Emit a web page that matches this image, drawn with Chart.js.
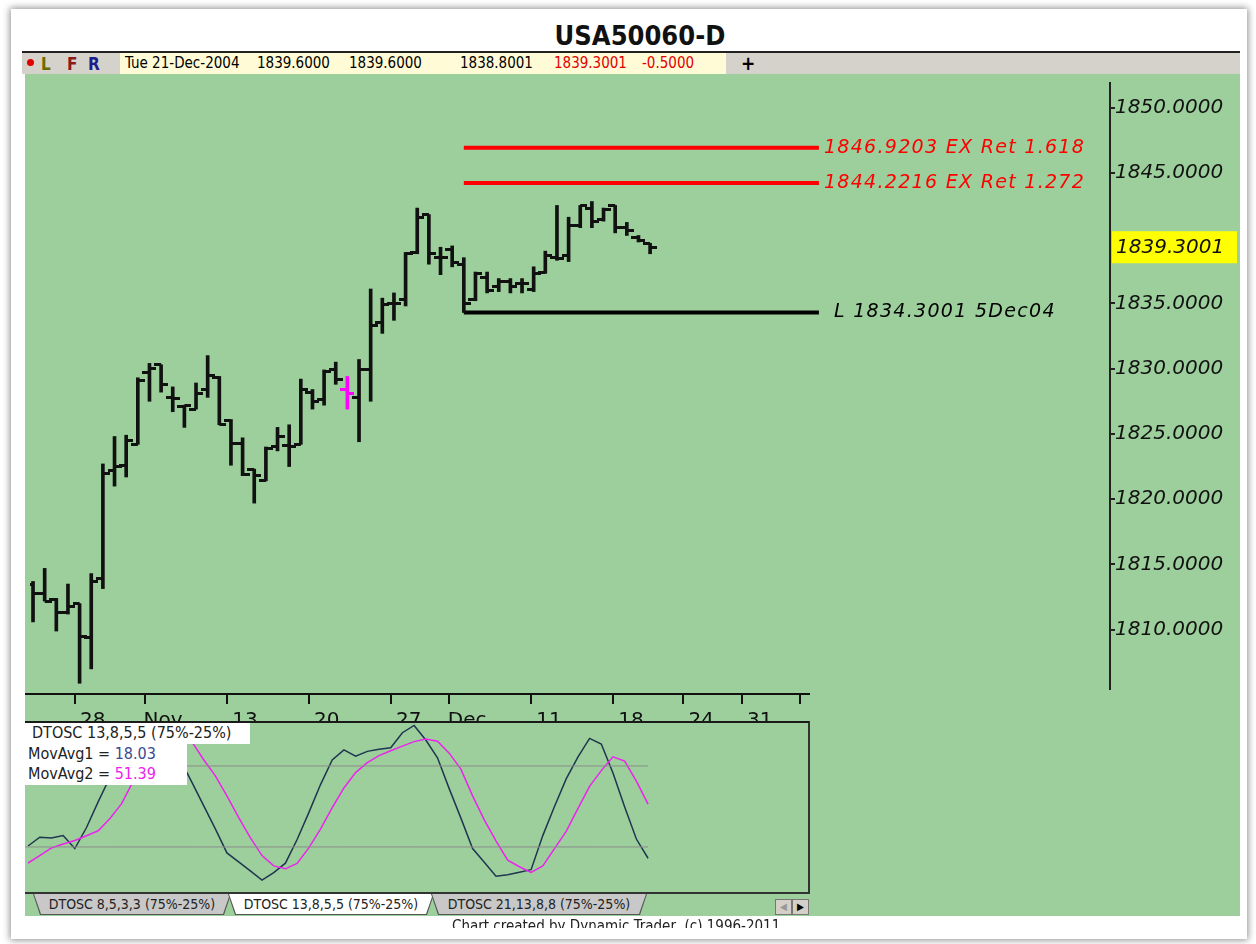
<!DOCTYPE html>
<html>
<head>
<meta charset="utf-8">
<title>USA50060-D</title>
<script src="https://cdn.jsdelivr.net/npm/chart.js@4.4.1/dist/chart.umd.min.js"></script>
<style>
  body { margin: 0; width: 1256px; height: 944px; background: #fff; position: relative; overflow: hidden;
         font-family: "DejaVu Sans Condensed", "DejaVu Sans", sans-serif; }
  .abs { position: absolute; }
  #frame { left: 11px; top: 9px; width: 1236px; height: 930px; background: #fff; box-shadow: 0 0 7px 1px rgba(0,0,0,.45); }
  #title { left: 540px; top: 20px; width: 200px; text-align: center; font-weight: bold; font-size: 27px; color: #111; }
  #toolbar { left: 22px; top: 51px; width: 1218px; height: 21px; background: #d5d2cc; border-top: 2px solid #222; font-size: 15px; }
  #toolbar span { position: absolute; top: 1px; white-space: pre; }
  #quote { left: 98px; top: 0; width: 606px; height: 21px; background: #fffbd6; }
  #green { left: 25px; top: 74px; width: 1215px; height: 842px; background: #9ccf9c; }
  #oscBox { left: 25px; top: 721px; width: 785px; height: 173px; box-sizing: border-box; background: #9ccf9c;
            border-top: 2px solid #1a1a1a; border-right: 2px solid #333; border-bottom: 2px solid #333; }
  .leg { background: #fff; font-size: 16px; color: #222; white-space: pre; padding-left: 3px; box-sizing: border-box; }
  .tab { top: 0; height: 21px; background: #555; clip-path: polygon(0 0, 100% 0, calc(100% - 7px) 100%, 7px 100%); }
  .tab div { position: absolute; left: 1px; right: 1px; top: 0; bottom: 1px; font-size: 14px; text-align: center; line-height: 20px;
             color: #222; clip-path: polygon(0 0, 100% 0, calc(100% - 7px) 100%, 7px 100%); }
  .btn { top: 5px; width: 15px; height: 14px; background: #d4d0c8; border: 1px solid #777; font-size: 10px; text-align: center; line-height: 14px; }
  #footer { left: 452px; top: 917px; height: 11px; overflow: hidden; font-size: 15px; color: #222; white-space: pre; }
</style>
</head>
<body>
<div id="frame" class="abs"></div>
<div id="title" class="abs">USA50060-D</div>
<div id="toolbar" class="abs">
  <div class="abs" style="left:5px;top:6px;width:7px;height:7px;border-radius:50%;background:#e00000"></div>
  <span style="left:19px;color:#6b6b00;font-weight:bold;font-size:17px">L</span>
  <span style="left:45px;color:#8b1a1a;font-weight:bold;font-size:17px">F</span>
  <span style="left:66px;color:#1c1c8c;font-weight:bold;font-size:17px">R</span>
  <div id="quote" class="abs">
    <span id="qDate" style="left:5px"></span>
    <span id="qOpen" style="left:137px"></span>
    <span id="qHigh" style="left:229px"></span>
    <span id="qLow" style="left:340px"></span>
    <span id="qClose" style="left:434px;color:#e00000"></span>
    <span id="qChange" style="left:522px;color:#e00000"></span>
  </div>
  <span style="left:719px;top:-1px;font-weight:bold;font-size:19px">+</span>
</div>
<div id="green" class="abs"></div>
<canvas id="priceChart" class="abs" width="1215" height="616" style="left:25px;top:78px"></canvas>
<canvas id="dateAxis" class="abs" width="785" height="60" style="left:25px;top:680px"></canvas>
<div id="oscBox" class="abs">
  <canvas id="oscChart" class="abs" width="783" height="169" style="left:0;top:0"></canvas>
</div>
<div class="abs leg" id="legTitle" style="left:25px;top:723px;width:225px;height:21px;padding-left:7px"></div>
<div class="abs leg" style="left:25px;top:744px;width:162px;height:21px">MovAvg1 = <span id="legFast" style="color:#3b4a8e"></span></div>
<div class="abs leg" style="left:25px;top:764px;width:162px;height:21px">MovAvg2 = <span id="legSlow" style="color:#ee22ee"></span></div>
<div id="tabs" class="abs" style="left:25px;top:894px;width:785px;height:22px"></div>
<div id="footer" class="abs">Chart created by Dynamic Trader  (c) 1996-2011</div>

<script>
// ---- data ----
const quoteDate = 'Tue 21-Dec-2004';

// one bar per day, oldest first (last bar = 21 Dec)
const barOpen = [1813.5, 1812.8, 1812.3, 1811.3, 1812.0, 1809.4, 1813.9, 1822.2, 1822.6, 1824.2,
                 1829.7, 1830.3, 1827.8, 1827.1, 1826.9, 1828.4, 1829.3, 1826.0, 1824.3, 1822.3,
                 1821.4, 1824.0, 1824.1, 1824.2, 1828.2, 1827.6, 1829.9, 1828.4, 1827.8, 1829.9,
                 1833.5, 1835.0, 1835.3, 1838.9, 1841.8, 1838.5, 1839.1, 1838.0, 1835.3, 1837.0,
                 1836.3, 1836.7, 1836.5, 1836.1, 1837.4, 1838.5, 1838.7, 1841.0, 1842.3, 1841.4,
                 1842.5, 1840.8, 1840.05, 1839.6];
const barHigh = [1813.7, 1814.7, 1812.4, 1813.5, 1812.0, 1814.3, 1822.7, 1824.8, 1824.9, 1829.3,
                 1830.4, 1830.3, 1828.6, 1827.2, 1828.9, 1831.0, 1829.4, 1826.1, 1824.7, 1822.3,
                 1824.0, 1825.5, 1825.7, 1829.2, 1828.4, 1829.9, 1830.5, 1829.4, 1830.7, 1836.1,
                 1835.4, 1835.8, 1838.9, 1842.3, 1841.8, 1839.3, 1839.4, 1838.5, 1837.4, 1837.4,
                 1836.9, 1836.9, 1836.9, 1837.8, 1839.0, 1842.5, 1841.6, 1842.5, 1842.8, 1842.3,
                 1842.5, 1841.2, 1840.2, 1839.6];
const barLow = [1810.6, 1812.2, 1809.9, 1811.2, 1805.9, 1807.0, 1813.15, 1821.0, 1821.7, 1824.2,
                1827.5, 1828.2, 1826.7, 1825.5, 1826.9, 1827.8, 1825.7, 1822.6, 1821.8, 1819.7,
                1821.4, 1823.7, 1822.5, 1824.2, 1826.9, 1827.2, 1828.8, 1826.9, 1824.4, 1827.5,
                1832.7, 1833.7, 1834.8, 1838.8, 1838.0, 1837.2, 1837.8, 1834.3001, 1835.2, 1835.8,
                1835.9, 1835.8, 1835.8, 1835.9, 1837.3, 1838.3, 1838.2, 1840.8, 1840.8, 1841.3,
                1840.4, 1840.2, 1839.7, 1838.8001];
const barClose = [1812.8, 1812.2, 1811.3, 1811.8, 1809.5, 1813.7, 1822.0, 1822.5, 1824.5, 1829.1,
                  1830.0, 1828.8, 1827.7, 1827.2, 1828.1, 1829.5, 1825.7, 1824.3, 1821.9, 1821.8,
                  1823.9, 1824.8, 1824.0, 1828.4, 1827.5, 1829.8, 1829.2, 1828.1, 1829.9, 1833.3,
                  1834.9, 1835.0, 1838.8, 1841.6, 1838.8, 1838.5, 1838.1, 1835.0, 1837.3, 1836.0,
                  1836.7, 1836.3, 1836.5, 1837.3, 1838.7, 1838.4, 1841.0, 1842.5, 1841.3, 1842.2,
                  1840.8, 1840.6, 1839.8001, 1839.3001];
const markedBar = 27;   // the magenta bar

// DTOSC 13,8,5,5
const dtoscFast = [25.6, 31, 30.5, 32, 24, 37, 53, 68, 82, 92,
                   97, 97, 90, 79, 65, 50.7, 36.3, 21.3, 15.8, 10.2,
                   4.6, 9.2, 15, 29.6, 46.2, 63.5, 78.7, 84.9, 81, 84,
                   85.3, 86.2, 95.5, 100, 91, 80, 61, 42.8, 24, 15.5,
                   7, 7.9, 9.4, 11, 32, 50, 67, 80.4, 92, 88.5,
                   70.7, 49.6, 29.9, 18.03];
const dtoscSlow = [15.1, 19.7, 24.4, 26.8, 29, 31.9, 35, 42.6, 51.7, 65.7,
                   76, 85, 90, 92, 90, 79, 69, 56.5, 43.3, 30.8,
                   19.7, 13.3, 11.5, 14.8, 24.4, 36, 49.2, 61.4, 70.9, 77,
                   81.4, 84.4, 87.2, 90, 91.6, 90.3, 82.9, 73, 56.5, 41.7,
                   28.8, 16.8, 12.8, 9.3, 13.3, 24, 34.6, 48.6, 62.4, 72.1,
                   80.6, 78, 65.6, 51.39];
const oscBands = [75, 25];

// date axis
const dateTickIndex = [4, 10, 17, 24, 31, 36, 43, 50, 56, 61, 66];
const dateTickLabels = ['28', 'Nov', '13', '20', '27', 'Dec', '11', '18', '24', '31', ''];

// price axis (1840 sits under the last-price box)
const priceTicks = [1810, 1815, 1820, 1825, 1830, 1835, 1845, 1850];

// projection lines
const levelValues = [1846.9203, 1844.2216, 1834.3001];
const levelTexts = ['1846.9203 EX Ret 1.618', '1844.2216 EX Ret 1.272', 'L 1834.3001 5Dec04'];
const levelStartIndex = 37;   // 5 Dec low
const levelEndIndex = 67.5;

const tabNames = ['DTOSC 8,5,3,3 (75%-25%)', 'DTOSC 13,8,5,5 (75%-25%)', 'DTOSC 21,13,8,8 (75%-25%)'];

// ---- layout / styles ----
const X_MIN = -0.26;
const X_MAX_PRICE = 92.5;
const X_MAX_DATE = 66.84;
const X_MAX_OSC = 66.67;
const PRICE_MIN = 1805.46, PRICE_MAX = 1851.88;
const OSC_MIN = -2.8, OSC_MAX = 101.5;
const BAR_COLOR = '#111', MARK_COLOR = '#ff00ff';
const levelColors = ['#ff0000', '#ff0000', '#000000'];
const levelGaps = [5, 5, 15];
const SCRIPT_FONT = '"DejaVu Sans"';

document.addEventListener('DOMContentLoaded', () => {
    const last = barClose.length - 1;

    // quote line
    document.getElementById('qDate').textContent = quoteDate;
    document.getElementById('qOpen').textContent = barOpen[last].toFixed(4);
    document.getElementById('qHigh').textContent = barHigh[last].toFixed(4);
    document.getElementById('qLow').textContent = barLow[last].toFixed(4);
    document.getElementById('qClose').textContent = barClose[last].toFixed(4);
    document.getElementById('qChange').textContent = (barClose[last] - barClose[last - 1]).toFixed(4);

    document.getElementById('legTitle').textContent = tabNames[1];
    document.getElementById('legFast').textContent = dtoscFast[last].toFixed(2);
    document.getElementById('legSlow').textContent = dtoscSlow[last].toFixed(2);

    // tabs
    const tabs = document.getElementById('tabs');
    const tabLeft = [8, 203, 406], tabWidth = [198, 206, 216];
    tabNames.forEach((name, i) => {
        const outer = document.createElement('div');
        outer.className = 'abs tab';
        outer.style.left = tabLeft[i] + 'px';
        outer.style.width = tabWidth[i] + 'px';
        const inner = document.createElement('div');
        inner.style.background = i === 1 ? '#ffffff' : '#c8c8c8';
        inner.textContent = name;
        outer.appendChild(inner);
        tabs.appendChild(outer);
    });
    ['\u25C0', '\u25B6'].forEach((s, i) => {
        const b = document.createElement('div');
        b.className = 'abs btn';
        b.style.left = (750 + i * 17) + 'px';
        b.style.color = i === 0 ? '#999' : '#000';
        b.textContent = s;
        tabs.appendChild(b);
    });

    // open / close tick marks as point images
    const tickImage = (side, color) => {
        const c = document.createElement('canvas');
        c.width = 14; c.height = 3;
        const g = c.getContext('2d');
        g.fillStyle = color;
        g.fillRect(side === 'left' ? 0 : 7, 0, 7, 3);
        return c;
    };
    const openBlack = tickImage('left', BAR_COLOR), openMark = tickImage('left', MARK_COLOR);
    const closeBlack = tickImage('right', BAR_COLOR), closeMark = tickImage('right', MARK_COLOR);

    const idx = barClose.map((_, i) => i);
    const highLow = idx.map(i => ({ x: i, y: [barLow[i], barHigh[i]] }));
    const opens = idx.map(i => ({ x: i, y: barOpen[i] }));
    const closes = idx.map(i => ({ x: i, y: barClose[i] }));

    const levelDatasets = levelValues.map((v, k) => ({
        data: [{ x: levelStartIndex, y: v }, { x: levelEndIndex, y: v }],
        borderColor: levelColors[k],
        borderWidth: 4,
        pointRadius: 0
    }));

    // labels at the line ends + last price box
    const levelLabels = {
        id: 'levelLabels',
        afterDraw(chart) {
            const { ctx, scales: { x, y }, chartArea } = chart;
            ctx.save();
            ctx.font = 'italic 19px ' + SCRIPT_FONT;
            ctx.letterSpacing = '1.3px';
            ctx.textBaseline = 'middle';
            levelValues.forEach((v, k) => {
                ctx.fillStyle = levelColors[k];
                ctx.fillText(levelTexts[k], x.getPixelForValue(levelEndIndex) + levelGaps[k], y.getPixelForValue(v));
            });
            const py = y.getPixelForValue(barClose[last]);
            ctx.letterSpacing = '0px';
            ctx.fillStyle = '#ffff00';
            ctx.fillRect(chartArea.right + 2, py - 16, 125, 32);
            ctx.fillStyle = '#111';
            ctx.font = 'italic 20px ' + SCRIPT_FONT;
            ctx.fillText(barClose[last].toFixed(4), chartArea.right + 6, py + 1);
            ctx.restore();
        }
    };

    new Chart(document.getElementById('priceChart'), {
        type: 'line',
        data: {
            datasets: [
                {
                    type: 'bar',
                    data: highLow,
                    backgroundColor: idx.map(i => i === markedBar ? MARK_COLOR : BAR_COLOR),
                    barThickness: 3,
                    grouped: false
                },
                {
                    data: opens,
                    showLine: false,
                    pointRadius: 3,
                    pointStyle: c => c.dataIndex === markedBar ? openMark : openBlack
                },
                {
                    data: closes,
                    showLine: false,
                    pointRadius: 3,
                    pointStyle: c => c.dataIndex === markedBar ? closeMark : closeBlack
                },
                ...levelDatasets
            ]
        },
        options: {
            responsive: false,
            animation: false,
            events: [],
            layout: { padding: 0 },
            plugins: { legend: { display: false }, tooltip: { enabled: false } },
            scales: {
                x: { type: 'linear', display: false, min: X_MIN, max: X_MAX_PRICE, offset: false },
                y: {
                    position: 'right',
                    min: PRICE_MIN,
                    max: PRICE_MAX,
                    afterBuildTicks: s => { s.ticks = priceTicks.map(v => ({ value: v })); },
                    afterFit: s => { s.width = 130; s.paddingTop = 0; s.paddingBottom = 0; },
                    ticks: {
                        color: '#111',
                        padding: 0,
                        font: { family: 'DejaVu Sans', size: 20, style: 'italic' },
                        callback: v => v.toFixed(4)
                    },
                    grid: { drawOnChartArea: false, tickLength: 5, color: '#222', lineWidth: 2 },
                    border: { color: '#222', width: 2 }
                }
            }
        },
        plugins: [levelLabels]
    });

    // date axis between the two panels (its labels run under the oscillator panel)
    new Chart(document.getElementById('dateAxis'), {
        type: 'line',
        data: { datasets: [] },
        options: {
            responsive: false,
            animation: false,
            events: [],
            layout: { padding: 0 },
            plugins: { legend: { display: false }, tooltip: { enabled: false } },
            scales: {
                x: {
                    type: 'linear',
                    min: X_MIN,
                    max: X_MAX_DATE,
                    afterBuildTicks: s => { s.ticks = dateTickIndex.map(v => ({ value: v })); },
                    afterFit: s => { s.height = 46; s.paddingLeft = 0; s.paddingRight = 0; },
                    ticks: {
                        autoSkip: false,
                        maxRotation: 0,
                        labelOffset: 18,
                        padding: 5,
                        color: '#111',
                        font: { family: 'DejaVu Sans', size: 20 },
                        callback: (v, i) => dateTickLabels[i]
                    },
                    grid: { drawOnChartArea: false, tickLength: 10, color: '#111', lineWidth: 2 },
                    border: { color: '#111', width: 2 }
                },
                y: { display: false, min: 0, max: 1 }
            }
        }
    });

    // oscillator panel
    const bandDatasets = oscBands.map(b => ({
        data: [{ x: X_MIN, y: b }, { x: last, y: b }],
        borderColor: '#8c8c8c',
        borderWidth: 1,
        pointRadius: 0
    }));

    new Chart(document.getElementById('oscChart'), {
        type: 'line',
        data: {
            datasets: [
                ...bandDatasets,
                {
                    data: idx.map(i => ({ x: i, y: dtoscSlow[i] })),
                    borderColor: '#ee22ee',
                    borderWidth: 1.5,
                    pointRadius: 0,
                    tension: 0
                },
                {
                    data: idx.map(i => ({ x: i, y: dtoscFast[i] })),
                    borderColor: '#1f3550',
                    borderWidth: 1.5,
                    pointRadius: 0,
                    tension: 0
                }
            ]
        },
        options: {
            responsive: false,
            animation: false,
            events: [],
            layout: { padding: 0 },
            plugins: { legend: { display: false }, tooltip: { enabled: false } },
            scales: {
                x: { type: 'linear', display: false, min: X_MIN, max: X_MAX_OSC },
                y: { display: false, min: OSC_MIN, max: OSC_MAX }
            }
        }
    });
});
</script>
</body>
</html>
